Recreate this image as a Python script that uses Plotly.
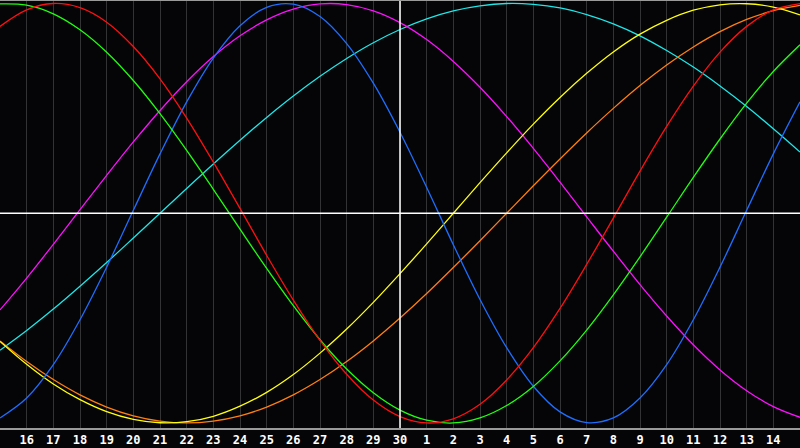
import plotly.graph_objects as go

# days shown along the bottom (15 .. 30, 1 .. 15), one point per day
days = [15, 16, 17, 18, 19, 20, 21, 22, 23, 24, 25, 26, 27, 28, 29, 30,
        1, 2, 3, 4, 5, 6, 7, 8, 9, 10, 11, 12, 13, 14, 15]

# curve values (-1 .. 1) at each day
physical = [-0.976, -0.881, -0.722, -0.508, -0.257, 0.014, 0.283, 0.531, 0.740, 0.894,
            0.982, 0.997, 0.938, 0.809, 0.620, 0.386, 0.123, -0.150, -0.411, -0.641,
            -0.825, -0.947, -0.998, -0.976, -0.881, -0.722, -0.508, -0.257, 0.014, 0.283, 0.531]
emotional = [0.891, 0.970, 1.000, 0.980, 0.911, 0.795, 0.641, 0.454, 0.244, 0.023,
             -0.201, -0.414, -0.606, -0.768, -0.891, -0.970, -1.000, -0.980, -0.911, -0.795,
             -0.641, -0.454, -0.244, -0.023, 0.201, 0.414, 0.606, 0.768, 0.891, 0.970, 1.000]
intellectual = [0.998, 0.992, 0.951, 0.875, 0.768, 0.633, 0.475, 0.300, 0.114, -0.076,
                -0.263, -0.441, -0.603, -0.743, -0.856, -0.939, -0.987, -1.000, -0.976, -0.917,
                -0.826, -0.704, -0.557, -0.389, -0.208, -0.019, 0.171, 0.354, 0.525, 0.676, 0.803]
intuitive = [-0.461, -0.309, -0.148, 0.017, 0.181, 0.340, 0.490, 0.627, 0.747, 0.846,
             0.922, 0.973, 0.998, 0.995, 0.965, 0.909, 0.828, 0.724, 0.601, 0.461,
             0.309, 0.148, -0.017, -0.181, -0.340, -0.490, -0.627, -0.747, -0.846, -0.922, -0.973]
spiritual = [-0.653, -0.559, -0.457, -0.348, -0.235, -0.118, 0.000, 0.118, 0.235, 0.348,
             0.457, 0.559, 0.653, 0.738, 0.813, 0.876, 0.927, 0.965, 0.989, 1.000,
             0.996, 0.979, 0.947, 0.903, 0.846, 0.776, 0.697, 0.607, 0.509, 0.403, 0.292]
aesthetic = [-0.611, -0.720, -0.814, -0.889, -0.946, -0.983, -0.999, -0.994, -0.968, -0.920,
             -0.854, -0.769, -0.667, -0.552, -0.425, -0.288, -0.146, 0.000, 0.146, 0.288,
             0.425, 0.552, 0.667, 0.769, 0.854, 0.920, 0.968, 0.994, 0.999, 0.983, 0.946]
awareness = [-0.609, -0.707, -0.793, -0.866, -0.924, -0.966, -0.991, -1.000, -0.991, -0.966,
             -0.924, -0.866, -0.793, -0.707, -0.609, -0.500, -0.383, -0.259, -0.131, 0.000,
             0.131, 0.259, 0.383, 0.500, 0.609, 0.707, 0.793, 0.866, 0.924, 0.966, 0.991]

x = list(range(len(days)))

curves = [
    (spiritual, "#1ee8e8"),
    (intuitive, "#ff10ff"),
    (awareness, "#ff7f10"),
    (aesthetic, "#ffff10"),
    (physical, "#1e6eff"),
    (intellectual, "#20ff10"),
    (emotional, "#ff1010"),
]

fig = go.Figure()
for vals, col in curves:
    fig.add_trace(go.Scatter(x=x, y=vals, mode="lines",
                             line=dict(color=col, width=1.3, shape="spline"),
                             hoverinfo="skip", showlegend=False))

# white cross: zero line and today (30)
fig.add_hline(y=0, line=dict(color="white", width=1.5))
fig.add_vline(x=days.index(30), line=dict(color="white", width=1.5))

fig.update_layout(
    width=800, height=448,
    margin=dict(l=0, r=0, t=1, b=20),
    paper_bgcolor="#050508",
    plot_bgcolor="#050508",
    xaxis=dict(range=[0, 30], tickvals=x[1:-1],
               ticktext=["<b>%d</b>" % d for d in days[1:-1]],
               showgrid=True, gridcolor="#333336", gridwidth=1,
               zeroline=False, showline=True, linecolor="#9a9a9a", linewidth=2,
               mirror=True, ticks="", fixedrange=True, automargin=False,
               tickfont=dict(color="white", size=12, family="DejaVu Sans Mono")),
    yaxis=dict(range=[-1.024, 1.012], showticklabels=False, showgrid=False,
               zeroline=False, showline=True, linecolor="#9a9a9a", linewidth=2,
               fixedrange=True, automargin=False),
)

fig.write_html("out.html", config={"displayModeBar": False},
               post_script="document.body.style.margin='0';")
